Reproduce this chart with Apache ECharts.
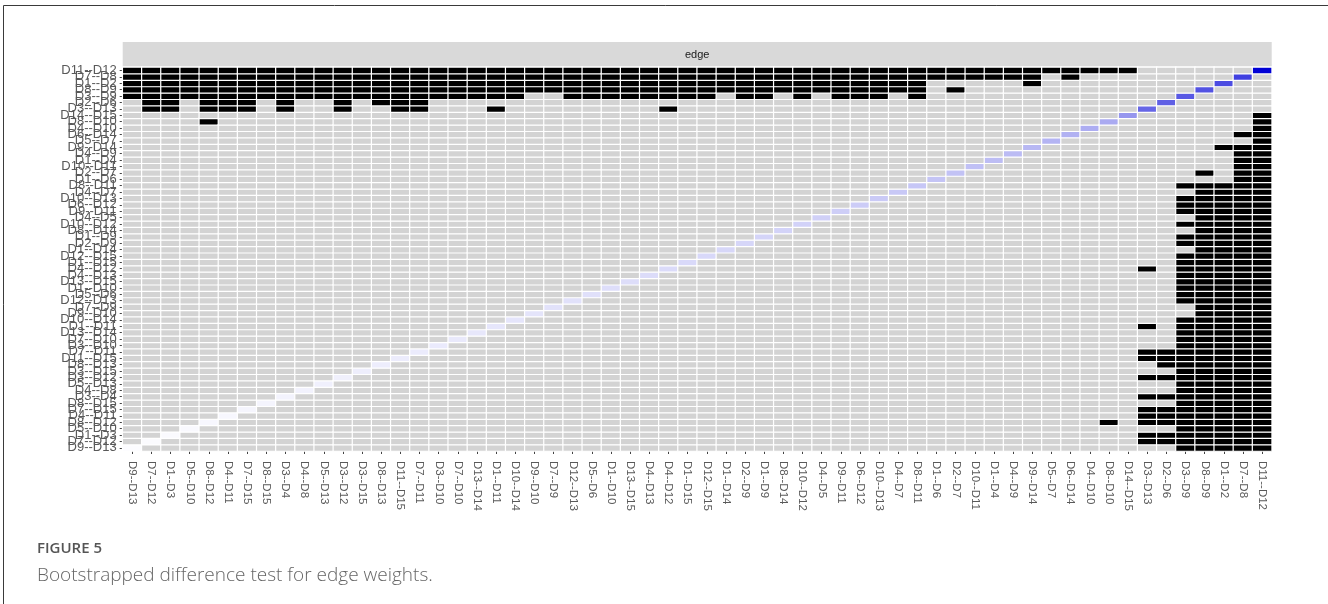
<!DOCTYPE html>
<html>
<head>
<meta charset="utf-8">
<script src="https://cdn.jsdelivr.net/npm/echarts@6/dist/echarts.min.js"></script>
<style>
  html, body { margin: 0; padding: 0; background: #ffffff; }
  #chart { width: 1328px; height: 604px; }
</style>
</head>
<body>
<div id="chart"></div>
<script>
// Edges ordered by estimated weight (weakest first); same order on both axes.
const edgeLabels = [
  'D9--D13', 'D7--D12', 'D1--D3', 'D5--D10', 'D8--D12', 'D4--D11', 'D7--D15', 'D8--D15',
  'D3--D4', 'D4--D8', 'D5--D13', 'D3--D12', 'D3--D15', 'D8--D13', 'D11--D15', 'D7--D11',
  'D3--D10', 'D7--D10', 'D13--D14', 'D1--D11', 'D10--D14', 'D9--D10', 'D7--D9', 'D12--D13',
  'D5--D6', 'D1--D10', 'D13--D15', 'D4--D13', 'D4--D12', 'D1--D15', 'D12--D15', 'D1--D14',
  'D2--D9', 'D1--D9', 'D8--D14', 'D10--D12', 'D4--D5', 'D9--D11', 'D6--D12', 'D10--D13',
  'D4--D7', 'D8--D11', 'D1--D6', 'D2--D7', 'D10--D11', 'D1--D4', 'D4--D9', 'D9--D14',
  'D5--D7', 'D6--D14', 'D4--D10', 'D8--D10', 'D14--D15', 'D3--D13', 'D2--D6', 'D3--D9',
  'D8--D9', 'D1--D2', 'D7--D8', 'D11--D12'
];

// Sample edge weights shown on the diagonal.
const edgeWeights = [
  0.004, 0.006, 0.008, 0.010, 0.012, 0.013, 0.015, 0.017, 0.019, 0.021,
  0.023, 0.024, 0.026, 0.028, 0.030, 0.031, 0.033, 0.035, 0.037, 0.039,
  0.041, 0.043, 0.045, 0.047, 0.049, 0.051, 0.053, 0.055, 0.057, 0.059,
  0.061, 0.063, 0.065, 0.067, 0.069, 0.071, 0.074, 0.077, 0.080, 0.083,
  0.086, 0.089, 0.092, 0.095, 0.099, 0.103, 0.107, 0.112, 0.117, 0.122,
  0.128, 0.134, 0.165, 0.240, 0.250, 0.260, 0.270, 0.280, 0.300, 0.400
];

// Significant differences: [edge, first partner, last partner] (symmetric).
const sigSpans = [
  [59, 0, 52],
  [58, 0, 47], [58, 49, 49],
  [57, 0, 41], [57, 47, 47],
  [56, 0, 41], [56, 43, 43],
  [55, 0, 20], [55, 23, 30], [55, 32, 33], [55, 35, 35], [55, 37, 39], [55, 41, 41],
  [54, 1, 2], [54, 4, 6], [54, 8, 8], [54, 11, 11], [54, 13, 15],
  [53, 1, 2], [53, 4, 6], [53, 8, 8], [53, 11, 11], [53, 14, 15], [53, 19, 19], [53, 28, 28],
  [51, 4, 4]
];

const N = edgeLabels.length;
const sig = [];
for (let i = 0; i < N; i++) sig.push(new Array(N).fill(false));
sigSpans.forEach(([e, a, b]) => {
  for (let k = a; k <= b; k++) { sig[e][k] = true; sig[k][e] = true; }
});

// Diagonal: white faded towards blue by relative edge strength.
const maxW = Math.max(...edgeWeights);
function diagColor(w) {
  const a = w / maxW;
  const r = Math.round(255 * (1 - a));
  const b = Math.round(255 - 42 * a);
  return 'rgb(' + r + ',' + r + ',' + b + ')';
}

const cells = [];
for (let x = 0; x < N; x++) {
  for (let y = 0; y < N; y++) {
    let color;
    if (x === y) color = diagColor(edgeWeights[x]);
    else color = sig[x][y] ? '#000000' : '#d3d3d3';
    cells.push({ value: [x, y, x === y ? edgeWeights[x] : (sig[x][y] ? 1 : 0)], itemStyle: { color: color } });
  }
}

const gridLeft = 122.7, gridRight = 56.3, gridTop = 67.3, gridBottom = 153;
const gridWidth = 1328 - gridLeft - gridRight;
const axisFont = 'Liberation Sans, Arial, sans-serif';

const chart = echarts.init(document.getElementById('chart'), null, { renderer: 'canvas' });
chart.setOption({
  animation: false,
  backgroundColor: '#ffffff',
  grid: { left: gridLeft, right: gridRight, top: gridTop, bottom: gridBottom },
  xAxis: {
    type: 'category',
    data: edgeLabels,
    axisLine: { show: false },
    axisTick: { show: true, length: 3, lineStyle: { color: '#444444' }, alignWithLabel: true },
    axisLabel: {
      interval: 0, rotate: -90, margin: 10,
      fontFamily: axisFont, fontSize: 11.5, color: '#595959'
    },
    splitLine: { show: false }
  },
  yAxis: {
    type: 'category',
    data: edgeLabels,
    axisLine: { show: false },
    axisTick: { show: true, length: 3, lineStyle: { color: '#444444' }, alignWithLabel: true },
    axisLabel: {
      interval: 0, margin: 6,
      fontFamily: axisFont, fontSize: 13, color: '#595959'
    },
    splitLine: { show: false }
  },
  series: [{
    type: 'heatmap',
    data: cells,
    progressive: 0,
    itemStyle: { borderColor: '#ffffff', borderWidth: 1.2 },
    emphasis: { disabled: true }
  }],
  graphic: [
    { type: 'line', shape: { x1: 3.5, y1: 5.5, x2: 1328, y2: 5.5 }, style: { stroke: '#3a3a3a', lineWidth: 1 } },
    { type: 'line', shape: { x1: 3.5, y1: 5.5, x2: 3.5, y2: 604 }, style: { stroke: '#3a3a3a', lineWidth: 1 } },
    { type: 'rect', shape: { x: gridLeft, y: 42, width: gridWidth, height: 24.5 }, style: { fill: '#d9d9d9' } },
    { type: 'text', x: gridLeft + gridWidth / 2, y: 54.5,
      style: { text: 'edge', fill: '#1a1a1a', font: '11px "Liberation Sans", Arial, sans-serif', textAlign: 'center', textVerticalAlign: 'middle' } },
    { type: 'text', x: 37, y: 549,
      style: { text: 'FIGURE 5', fill: '#555555', font: '600 15px "Open Sans", sans-serif', textAlign: 'left', textVerticalAlign: 'middle' } },
    { type: 'text', x: 37, y: 576,
      style: { text: 'Bootstrapped difference test for edge weights.', fill: '#666666', font: '300 19px "Open Sans", sans-serif', textAlign: 'left', textVerticalAlign: 'middle' } }
  ]
});
</script>
</body>
</html>
